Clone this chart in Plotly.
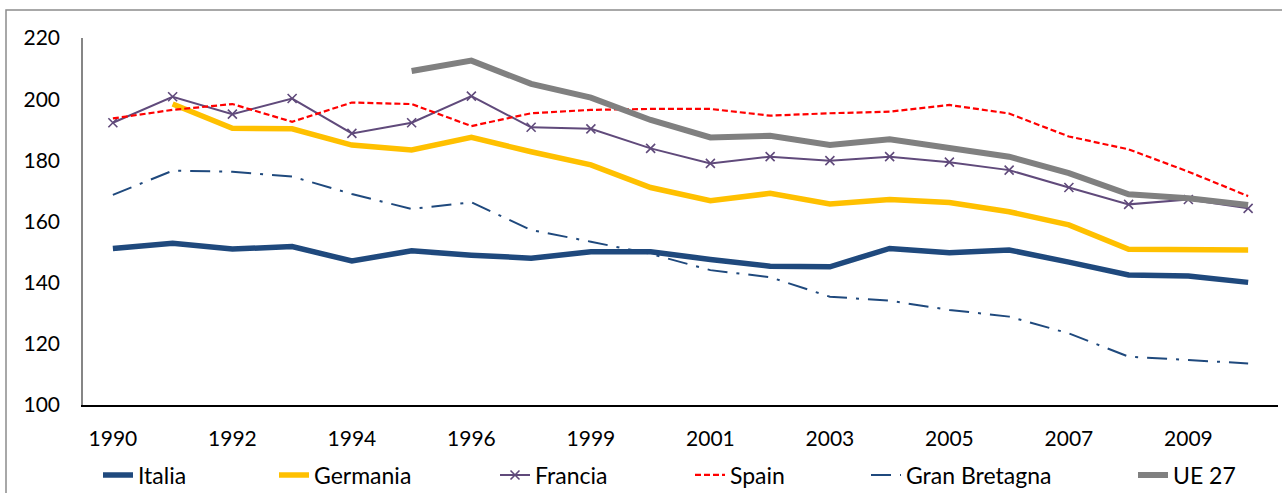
import plotly.graph_objects as go

# categories (1998 is not in the source series)
years = ["1990", "1991", "1992", "1993", "1994", "1995", "1996", "1997",
         "1999", "2000", "2001", "2002", "2003", "2004", "2005", "2006",
         "2007", "2008", "2009", "2010"]
tick_years = years[::2]

italia = [151.2, 152.9, 151.0, 151.8, 147.1, 150.4, 149.0, 148.0, 150.1, 150.1,
          147.6, 145.4, 145.2, 151.2, 149.8, 150.7, 146.7, 142.5, 142.2, 140.1]
germania = [None, 198.4, 190.5, 190.3, 185.0, 183.4, 187.5, 182.8, 178.5, 171.1,
            166.8, 169.2, 165.7, 167.2, 166.2, 163.2, 158.9, 150.9, 150.7, 150.7]
francia = [192.3, 200.8, 195.1, 200.2, 188.8, 192.3, 201.0, 190.8, 190.3, 183.9,
           179.0, 181.2, 179.9, 181.2, 179.4, 176.8, 171.1, 165.6, 167.2, 164.3]
spain = [193.7, 196.5, 198.4, 192.6, 198.9, 198.4, 191.2, 195.4, 196.5, 196.8,
         196.8, 194.6, 195.4, 195.9, 198.1, 195.3, 187.8, 183.6, 176.3, 168.3]
gran_bretagna = [168.7, 176.6, 176.3, 174.7, 169.0, 164.1, 166.3, 157.2, 153.4, 149.4,
                 144.1, 141.8, 135.4, 134.1, 131.1, 128.9, 123.4, 115.8, 114.7, 113.6]
ue27 = [None, None, None, None, None, 209.2, 212.6, 205.0, 200.5, 193.2,
        187.5, 188.0, 185.0, 186.9, 183.9, 181.2, 175.8, 168.9, 167.6, 165.4]

FONT = "Lato"
W, H = 1282, 493
L, R, T, B = 83, 4, 38, 88
pw, ph = W - L - R, H - T - B


def px_x(x):
    return (x - L) / pw


def px_y(y):
    return (H - B - y) / ph


series = [
    ("Italia", italia, dict(color="#1F497D", width=5.5), None),
    ("Germania", germania, dict(color="#FFC000", width=5.5), None),
    ("Francia", francia, dict(color="#604A7B", width=2), dict(symbol="x-thin", size=9, line=dict(width=1.6, color="#604A7B"))),
    ("Spain", spain, dict(color="#FF0000", width=2.2, dash="6px,3px"), None),
    ("Gran Bretagna", gran_bretagna, dict(color="#1F497D", width=2, dash="20px,9px,3px,9px"), None),
    ("UE 27", ue27, dict(color="#808080", width=6), None),
]
legend_text_x = [140, 316, 537, 732, 908, 1175]

fig = go.Figure()
layout_legends = {}
for i, (name, vals, line, marker) in enumerate(series):
    lg = "legend" if i == 0 else "legend" + str(i + 1)
    fig.add_trace(go.Scatter(x=years, y=vals, name=name,
                             mode="lines+markers" if marker else "lines",
                             line=line, marker=marker, legend=lg,
                             connectgaps=False))
    # one small legend per series, placed in container pixels like the original
    layout_legends[lg] = dict(x=(legend_text_x[i] - 42) / W, y=1 - 475 / H,
                              xref="container", yref="container",
                              xanchor="left", yanchor="middle",
                              orientation="h", bgcolor="rgba(0,0,0,0)",
                              font=dict(family=FONT, size=23, color="#000000"))

fig.update_layout(
    width=W, height=H,
    margin=dict(l=L, r=R, t=T, b=B, autoexpand=False),
    plot_bgcolor="white", paper_bgcolor="white",
    font=dict(family=FONT, size=21, color="#000000"),
    showlegend=True,
    **layout_legends,
)

fig.update_xaxes(
    type="category", range=[-0.5, 19.5],
    tickvals=tick_years, ticktext=tick_years,
    showgrid=False, zeroline=False,
    showline=True, linecolor="#000000", linewidth=1.5,
    ticks="", ticklabelstandoff=14,
    tickfont=dict(family=FONT, size=21, color="#000000"),
)
fig.update_yaxes(
    range=[100, 220], dtick=20,
    showgrid=False, zeroline=False,
    showline=True, linecolor="#868686", linewidth=1.5,
    ticks="", ticklabelstandoff=17,
    tickfont=dict(family=FONT, size=21, color="#000000"),
)

# outer chart border
fig.add_shape(type="rect", xref="paper", yref="paper",
              x0=px_x(6), x1=px_x(1300), y0=px_y(520), y1=px_y(10),
              line=dict(color="#8C8C8C", width=1.5), layer="above")

# drop the browser's default body margin so the figure sits at the page corner
fig.write_html("out.html", config={"displayModeBar": False},
               post_script="document.body.style.margin='0';")
